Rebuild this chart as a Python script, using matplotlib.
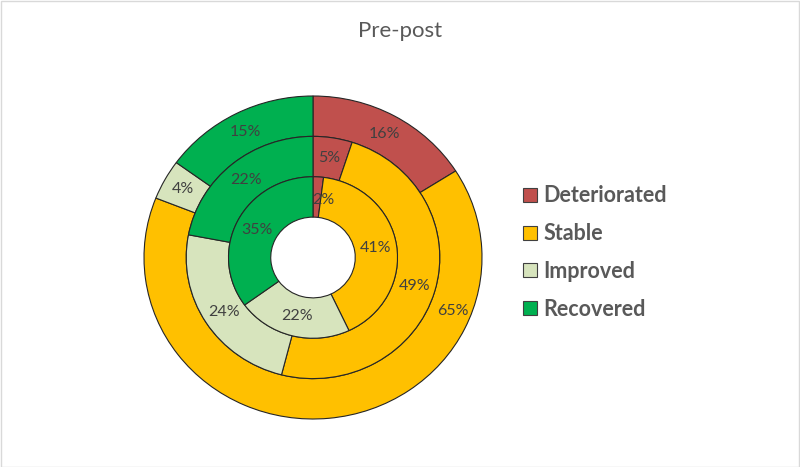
import matplotlib
matplotlib.use("Agg")
import matplotlib.pyplot as plt
from matplotlib.patches import Patch, Rectangle
import numpy as np

plt.rcParams['font.family'] = ['Lato', 'DejaVu Sans']

title = "Pre-post"
categories = ["Deteriorated", "Stable", "Improved", "Recovered"]
colors = ["#C0504D", "#FFC000", "#D7E4BD", "#00B050"]
inner_vals = [2, 41, 22, 35]
middle_vals = [5, 49, 24, 22]
outer_vals = [16, 65, 4, 15]

W, H = 800, 467
fig = plt.figure(figsize=(W / 100, H / 100), dpi=100)
fig.patch.set_facecolor("white")
fig.patches.append(Rectangle((0.5 / W, 0.5 / H), 1 - 1.5 / W, 1 - 1.5 / H,
                             transform=fig.transFigure, fill=False,
                             edgecolor="#D9D9D9", linewidth=1.0))

# center (313, 257.5), radii 169 x 161.5 px
cx, cy, rx, ry = 313, 257.5, 169, 161.5
ax = fig.add_axes([(cx - rx) / W, (H - cy - ry) / H, 2 * rx / W, 2 * ry / H])

ring_w = 0.25
edge = dict(edgecolor="#262626", linewidth=0.8)
text_color = "#404040"
rings = [(1.0, outer_vals), (0.75, middle_vals), (0.5, inner_vals)]
all_texts = []
for r, vals in rings:
    wedges, _, autotexts = ax.pie(
        vals, radius=r, colors=colors, startangle=90, counterclock=False,
        wedgeprops=dict(width=ring_w, **edge),
        autopct=lambda p: f"{p:.0f}%", pctdistance=(r - ring_w / 2) / r,
        textprops=dict(color=text_color, fontsize=11.5))
    all_texts.append(autotexts)


def place(txt, deg, rad):
    a = np.deg2rad(90 - deg)
    txt.set_position((rad * np.cos(a), rad * np.sin(a)))


# hand-placed labels as in the reference
place(all_texts[0][1], 112, 0.89)   # outer 65%
place(all_texts[2][0], 9.5, 0.36)   # inner 2%

ax.set_aspect("auto")
ax.set_xlim(-1, 1)
ax.set_ylim(-1, 1)
ax.axis("off")

fig.text(400 / W, 1 - 31 / H, title, ha="center", va="center",
         fontsize=16, color="#595959")

handles = [Patch(facecolor=c, edgecolor="#404040", linewidth=0.8) for c in colors]
leg = fig.legend(handles, categories, loc="upper left",
                 bbox_to_anchor=(504 / W, 1 - 166 / H), frameon=False,
                 handlelength=0.62, handleheight=0.62, handletextpad=0.3,
                 labelspacing=0.78, prop=dict(weight="bold", size=15.5))
for t in leg.get_texts():
    t.set_color("#595959")

fig.savefig("out.png", dpi=100, facecolor="white")
